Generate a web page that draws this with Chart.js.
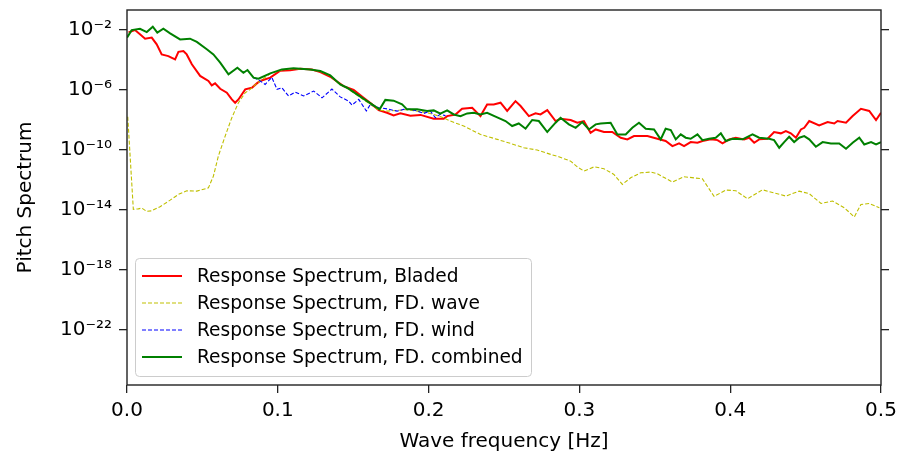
<!DOCTYPE html>
<html>
<head>
<meta charset="utf-8">
<script src="https://cdn.jsdelivr.net/npm/chart.js@4.4.0/dist/chart.umd.min.js"></script>
<style>
html, body { margin: 0; padding: 0; background: #fff; }
#wrap { width: 897px; height: 455px; }
</style>
</head>
<body>
<div id="wrap"><canvas id="chart"></canvas></div>
<script>
// values; spectra are given as log10 of the pitch spectrum
var bladedFreq = [0.001, 0.0053, 0.0086, 0.012, 0.0164, 0.0197, 0.023, 0.0274, 0.0319, 0.0341,
	0.0374, 0.0396, 0.043, 0.0485, 0.054, 0.0562, 0.0584, 0.0618, 0.0662, 0.0695,
	0.0717, 0.0739, 0.0784, 0.0828, 0.0861, 0.0883, 0.095, 0.1016, 0.1082, 0.1149,
	0.1226, 0.1282, 0.1348, 0.1436, 0.1503, 0.1569, 0.1625, 0.1669, 0.1724, 0.1768,
	0.1813, 0.1879, 0.1946, 0.2034, 0.21, 0.2123, 0.2178, 0.2222, 0.2289, 0.2344,
	0.2388, 0.2432, 0.2477, 0.2521, 0.2576, 0.261, 0.2665, 0.2709, 0.2742, 0.2787,
	0.2842, 0.2875, 0.2942, 0.2986, 0.303, 0.3074, 0.3108, 0.3163, 0.3218, 0.3274,
	0.3318, 0.3362, 0.3451, 0.3517, 0.3572, 0.3617, 0.3661, 0.3694, 0.3738, 0.3783,
	0.3816, 0.3871, 0.3916, 0.3949, 0.3993, 0.4037, 0.4092, 0.4126, 0.4159, 0.4192,
	0.4248, 0.4291, 0.4336, 0.4369, 0.4402, 0.4436, 0.4469, 0.4491, 0.4524, 0.459,
	0.4646, 0.469, 0.4712, 0.4768, 0.4812, 0.4867, 0.4922, 0.4967, 0.5];
var bladedLog = [-2.2, -2.05, -2.33, -2.62, -2.55, -3.0, -3.67, -3.78, -4.0, -3.5,
	-3.44, -3.67, -4.33, -5.1, -5.44, -5.73, -5.6, -5.96, -6.22, -6.67,
	-6.89, -6.67, -6.0, -5.89, -5.6, -5.44, -5.22, -4.75, -4.72, -4.62,
	-4.67, -4.85, -5.16, -5.78, -6.04, -6.56, -7.0, -7.38, -7.56, -7.73,
	-7.6, -7.75, -7.7, -7.95, -7.96, -7.78, -7.67, -7.29, -7.22, -7.78,
	-7.0, -7.0, -6.89, -7.44, -6.78, -7.11, -7.78, -7.6, -7.67, -7.38,
	-8.11, -7.96, -8.04, -8.22, -8.11, -8.89, -8.67, -8.84, -8.84, -9.22,
	-9.33, -9.11, -9.11, -9.29, -9.44, -9.78, -9.6, -9.78, -9.51, -9.56,
	-9.44, -9.33, -9.38, -9.6, -9.33, -9.22, -9.33, -9.22, -9.56, -9.33,
	-9.29, -8.84, -8.93, -8.78, -8.93, -9.22, -8.67, -8.56, -8.11, -8.4,
	-8.18, -8.27, -8.11, -8.22, -7.78, -7.29, -7.44, -8.04, -7.56];

var waveFreq = [0.0005, 0.0042, 0.0075, 0.0098, 0.0131, 0.0164, 0.0219, 0.0286, 0.0341, 0.0396,
	0.0463, 0.054, 0.0573, 0.0606, 0.0651, 0.0695, 0.0739, 0.0784, 0.0817, 0.0861,
	0.0883, 0.095, 0.1027, 0.1104, 0.1215, 0.1282, 0.1348, 0.1414, 0.1459, 0.1525,
	0.1592, 0.1669, 0.1724, 0.1791, 0.1846, 0.1924, 0.199, 0.2078, 0.2144, 0.2233,
	0.2344, 0.2455, 0.2543, 0.2632, 0.272, 0.2809, 0.2864, 0.2942, 0.2986, 0.303,
	0.3098, 0.3163, 0.3229, 0.3285, 0.334, 0.3406, 0.3473, 0.3517, 0.3617, 0.3694,
	0.3816, 0.3893, 0.3971, 0.4037, 0.4115, 0.4214, 0.428, 0.4369, 0.4457, 0.4524,
	0.4602, 0.4679, 0.4757, 0.4823, 0.4867, 0.4922, 0.4989];
var waveLog = [-7.82, -14.0, -13.96, -13.91, -14.13, -14.09, -13.82, -13.38, -13.0, -12.76,
	-12.78, -12.56, -11.78, -10.44, -9.11, -7.89, -6.89, -6.22, -6.0, -5.6,
	-5.44, -4.95, -4.7, -4.62, -4.68, -4.8, -5.1, -5.7, -5.92, -6.38,
	-6.85, -7.38, -7.45, -7.4, -7.35, -7.45, -7.55, -7.8, -8.11, -8.44,
	-9.0, -9.33, -9.6, -9.89, -10.04, -10.33, -10.49, -10.78, -11.16, -11.44,
	-11.16, -11.29, -11.67, -12.33, -11.89, -11.56, -11.51, -11.62, -12.18, -11.82,
	-11.96, -13.13, -12.71, -12.75, -13.29, -12.69, -12.87, -13.11, -12.78, -12.95,
	-13.6, -13.44, -13.89, -14.5, -13.67, -13.6, -13.89];

var windFreq = [0.0839, 0.0872, 0.0883, 0.0916, 0.096, 0.0995, 0.1027, 0.1071, 0.1116, 0.1171,
	0.1238, 0.1293, 0.1359, 0.1414, 0.147, 0.1492, 0.1537, 0.1587, 0.1614, 0.1669,
	0.1724, 0.1791, 0.1835, 0.1879, 0.1924, 0.1968, 0.2012, 0.2045, 0.2078, 0.2112];
var windLog = [-5.22, -5.35, -5.44, -5.67, -5.2, -6.0, -5.89, -6.44, -6.18, -6.44,
	-6.11, -6.56, -5.98, -6.5, -6.78, -7.05, -6.67, -7.44, -7.0, -7.22,
	-7.3, -7.45, -7.33, -7.33, -7.44, -7.6, -7.45, -7.89, -7.65, -7.75];

var combinedFreq = [0.0, 0.0031, 0.0086, 0.0131, 0.0171, 0.0201, 0.0241, 0.0286, 0.0352, 0.0418,
	0.0463, 0.0529, 0.0573, 0.0618, 0.0673, 0.0732, 0.0772, 0.0799, 0.0839, 0.0872,
	0.095, 0.1027, 0.1104, 0.1215, 0.1282, 0.1348, 0.1414, 0.1459, 0.1525, 0.1592,
	0.1675, 0.1713, 0.1768, 0.1824, 0.1857, 0.1924, 0.199, 0.2034, 0.2078, 0.2123,
	0.2167, 0.2211, 0.2256, 0.2299, 0.2344, 0.2388, 0.2444, 0.251, 0.2554, 0.2598,
	0.2643, 0.2687, 0.2731, 0.2787, 0.2842, 0.2875, 0.293, 0.2975, 0.3019, 0.3063,
	0.3108, 0.3141, 0.3207, 0.3252, 0.3307, 0.3351, 0.3395, 0.344, 0.3495, 0.3539,
	0.3572, 0.3606, 0.3639, 0.3672, 0.3705, 0.3738, 0.3783, 0.3816, 0.386, 0.3904,
	0.3938, 0.3971, 0.4015, 0.4082, 0.4148, 0.4192, 0.4258, 0.4291, 0.4325, 0.4358,
	0.4391, 0.4424, 0.4458, 0.4491, 0.4524, 0.4568, 0.4613, 0.4668, 0.4723, 0.4768,
	0.4812, 0.4856, 0.4889, 0.4934, 0.4967, 0.5];
var combinedLog = [-2.55, -2.05, -1.96, -2.18, -1.82, -2.22, -1.96, -2.27, -2.67, -2.62,
	-2.84, -3.33, -3.67, -4.22, -5.0, -4.56, -4.89, -4.71, -5.22, -5.29,
	-4.93, -4.67, -4.6, -4.67, -4.78, -5.07, -5.67, -5.89, -6.33, -6.78,
	-7.33, -6.7, -6.75, -7.0, -7.33, -7.33, -7.44, -7.4, -7.62, -7.4,
	-7.67, -7.78, -7.6, -7.56, -7.67, -7.56, -7.82, -8.11, -8.44, -8.27,
	-8.62, -8.04, -8.11, -8.84, -8.22, -7.89, -8.33, -8.56, -8.18, -8.67,
	-8.33, -8.27, -8.22, -9.0, -9.0, -8.56, -8.22, -8.62, -8.67, -9.33,
	-8.62, -8.71, -9.33, -9.0, -9.22, -9.29, -9.0, -9.38, -9.29, -9.22,
	-8.93, -9.44, -9.29, -9.33, -9.0, -9.22, -9.29, -9.38, -9.89, -9.51,
	-9.16, -9.51, -9.22, -9.11, -9.33, -9.82, -9.51, -9.6, -9.6, -9.96,
	-9.56, -9.22, -9.67, -9.51, -9.67, -9.51];

var seriesLabels = ['Response Spectrum, Bladed', 'Response Spectrum, FD. wave',
	'Response Spectrum, FD. wind', 'Response Spectrum, FD. combined'];
var xTicks = [0.0, 0.1, 0.2, 0.3, 0.4, 0.5];
var yTicks = [1e-22, 1e-18, 1e-14, 1e-10, 1e-6, 1e-2];

var FONT = 'DejaVu Sans';

function toPoints(freq, logs) {
	return freq.map(function(f, i) { return {x: f, y: Math.pow(10, logs[i])}; });
}

var SUP = {'-': '\u207B', '0': '\u2070', '1': '\u00B9', '2': '\u00B2', '3': '\u00B3',
	'4': '\u2074', '5': '\u2075', '6': '\u2076', '7': '\u2077', '8': '\u2078', '9': '\u2079'};
function powerLabel(v) {
	var p = String(Math.round(Math.log10(v)));
	return '10' + p.split('').map(function(c) { return SUP[c]; }).join('');
}

var styles = [
	{color: '#ff0000', width: 2, dash: []},
	{color: '#bfbf00', width: 1.1, dash: [4, 2]},
	{color: '#0000ff', width: 1.1, dash: [4, 2]},
	{color: '#008000', width: 2, dash: []}
];

// matplotlib style frame and the legend box at lower left
var framePlugin = {
	id: 'frame',
	afterDatasetsDraw: function(chart) {
		var a = chart.chartArea, ctx = chart.ctx;
		ctx.save();
		ctx.strokeStyle = '#222';
		ctx.lineWidth = 1.4;
		ctx.strokeRect(a.left, a.top, a.right - a.left, a.bottom - a.top);

		var bx = 135.5, by = 258.5, bw = 396, bh = 118, r = 4;
		ctx.beginPath();
		ctx.moveTo(bx + r, by);
		ctx.arcTo(bx + bw, by, bx + bw, by + bh, r);
		ctx.arcTo(bx + bw, by + bh, bx, by + bh, r);
		ctx.arcTo(bx, by + bh, bx, by, r);
		ctx.arcTo(bx, by, bx + bw, by, r);
		ctx.closePath();
		ctx.fillStyle = 'rgba(255,255,255,0.8)';
		ctx.fill();
		ctx.strokeStyle = '#cccccc';
		ctx.lineWidth = 1;
		ctx.stroke();

		ctx.font = '18.6px "' + FONT + '"';
		ctx.textBaseline = 'middle';
		ctx.fillStyle = '#000';
		for (var i = 0; i < seriesLabels.length; i++) {
			var y = 276 + i * 27;
			ctx.beginPath();
			ctx.setLineDash(styles[i].dash);
			ctx.strokeStyle = styles[i].color;
			ctx.lineWidth = styles[i].width;
			ctx.moveTo(142, y);
			ctx.lineTo(182, y);
			ctx.stroke();
			ctx.setLineDash([]);
			ctx.fillText(seriesLabels[i], 197, y + 1);
		}
		ctx.restore();
	}
};

var sources = [[bladedFreq, bladedLog], [waveFreq, waveLog], [windFreq, windLog], [combinedFreq, combinedLog]];
var datasets = sources.map(function(s, i) {
	return {
		label: seriesLabels[i],
		data: toPoints(s[0], s[1]),
		borderColor: styles[i].color,
		borderWidth: styles[i].width,
		borderDash: styles[i].dash,
		pointRadius: 0,
		tension: 0,
		fill: false,
		order: 4 - i
	};
});

var tickGrid = {drawOnChartArea: false, drawTicks: true, tickLength: 8, color: '#222', lineWidth: 1.3};

new Chart(document.getElementById('chart'), {
	type: 'line',
	data: {datasets: datasets},
	plugins: [framePlugin],
	options: {
		responsive: true,
		maintainAspectRatio: false,
		animation: false,
		layout: {padding: {top: 10, right: 0, left: 0, bottom: 0}},
		plugins: {legend: {display: false}, tooltip: {enabled: false}},
		scales: {
			x: {
				type: 'linear',
				min: 0,
				max: 0.5,
				grid: tickGrid,
				border: {display: false},
				afterBuildTicks: function(scale) {
					scale.ticks = xTicks.map(function(v) { return {value: v}; });
				},
				ticks: {
					color: '#000',
					padding: 6,
					maxRotation: 0,
					font: {family: FONT, size: 20},
					callback: function(v) { return Number(v).toFixed(1); }
				},
				title: {display: true, text: 'Wave frequency [Hz]', color: '#000',
					font: {family: FONT, size: 20}, padding: {top: 0, bottom: 1}},
				afterFit: function(scale) {
					scale.height = 70;
					scale.paddingLeft = 0;
					scale.paddingRight = 0;
				}
			},
			y: {
				type: 'logarithmic',
				position: 'left',
				min: 2.14e-26,
				max: 0.195,
				grid: tickGrid,
				border: {display: false},
				afterBuildTicks: function(scale) {
					scale.ticks = yTicks.map(function(v) { return {value: v}; });
				},
				ticks: {
					color: '#000',
					padding: 7,
					font: {family: FONT, size: 20},
					callback: function(v) { return powerLabel(v); }
				},
				title: {display: true, text: 'Pitch Spectrum', color: '#000',
					font: {family: FONT, size: 20}, padding: {top: 14, bottom: 0}},
				afterFit: function(scale) {
					scale.width = 127;
					scale.paddingTop = 0;
					scale.paddingBottom = 0;
				}
			},
			y2: {
				type: 'logarithmic',
				position: 'right',
				min: 2.14e-26,
				max: 0.195,
				grid: tickGrid,
				border: {display: false},
				afterBuildTicks: function(scale) {
					scale.ticks = yTicks.map(function(v) { return {value: v}; });
				},
				ticks: {callback: function() { return ''; }},
				afterFit: function(scale) {
					scale.width = 16;
					scale.paddingTop = 0;
					scale.paddingBottom = 0;
				}
			}
		}
	}
});
</script>
</body>
</html>
